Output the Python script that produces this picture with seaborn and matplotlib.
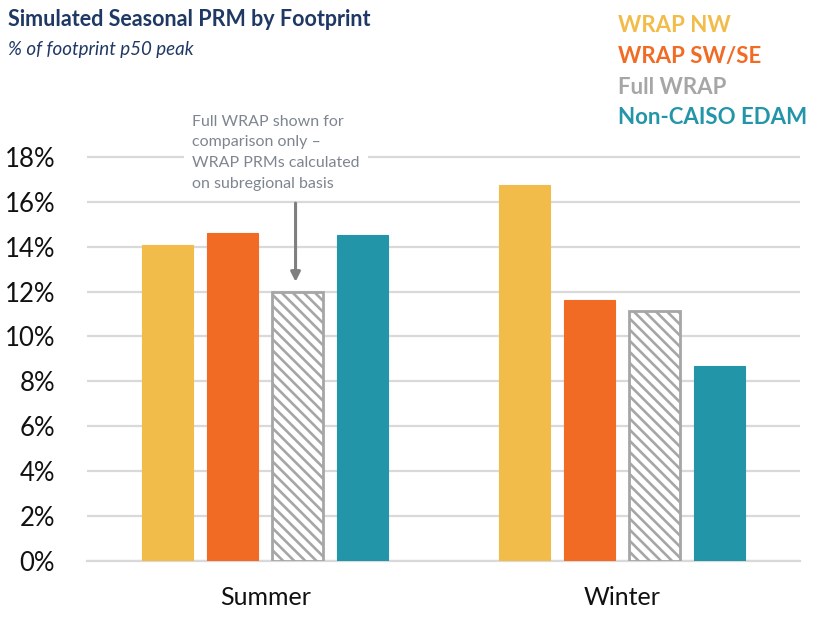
import matplotlib
matplotlib.use("Agg")
import matplotlib.pyplot as plt
import pandas as pd
import seaborn as sns

seasons = ["Summer", "Winter"]
footprints = ["WRAP NW", "WRAP SW/SE", "Full WRAP", "Non-CAISO EDAM"]
prm_summer = [14.1, 14.6, 12.0, 14.55]
prm_winter = [16.75, 11.65, 11.15, 8.7]
colors = ["#F2BC4A", "#F26B24", "#A6A6A6", "#2296A8"]
yticks = [0, 2, 4, 6, 8, 10, 12, 14, 16, 18]

rows = []
for season, values in zip(seasons, [prm_summer, prm_winter]):
    for fp, v in zip(footprints, values):
        rows.append({"season": season, "footprint": fp, "prm": v})
df = pd.DataFrame(rows)

sns.set_style("white")
plt.rcParams["font.family"] = ["Lato", "DejaVu Sans"]
plt.rcParams["hatch.color"] = "#A6A6A6"
plt.rcParams["hatch.linewidth"] = 1.9

fig = plt.figure(figsize=(8.26, 6.2), dpi=100)
ax = fig.add_axes([87 / 826, 1 - 560.6 / 620, 713 / 826, (560.6 - 146.0) / 620])

sns.barplot(
    data=df, x="season", y="prm", hue="footprint",
    hue_order=footprints, order=seasons,
    palette=colors, width=0.73, gap=0.22,
    saturation=1, legend=False, ax=ax, zorder=3,
)

# hatched outline for the full WRAP bars
for bar in ax.containers[2]:
    bar.set_facecolor("white")
    bar.set_edgecolor("#A6A6A6")
    bar.set_hatch("\\\\\\")
    bar.set_linewidth(2)
for i in [0, 1, 3]:
    for bar in ax.containers[i]:
        bar.set_edgecolor(colors[i])
        bar.set_linewidth(0.8)

ax.set_xlim(-0.5, 1.5)
ax.set_ylim(0, 18.5)
ax.set_yticks(yticks)
ax.set_yticklabels([f"{t}%" for t in yticks])
ax.yaxis.grid(True, color="#D9D9D9", linewidth=1.6, zorder=0)
ax.set_axisbelow(True)
for s in ["top", "right", "left"]:
    ax.spines[s].set_visible(False)
ax.spines["bottom"].set_color("#D9D9D9")
ax.spines["bottom"].set_linewidth(1.6)
ax.tick_params(axis="y", length=0, labelsize=18.5, pad=23, colors="#111111")
ax.tick_params(axis="x", length=0, labelsize=18, pad=18, colors="#111111")
ax.set_xlabel("")
ax.set_ylabel("")

fig.text(8 / 826, 1 - 20 / 620, "Simulated Seasonal PRM by Footprint",
         fontsize=15.5, fontweight="bold", color="#1F3864", va="center")
fig.text(8 / 826, 1 - 49 / 620, "% of footprint p50 peak",
         fontsize=13.5, style="italic", color="#1F3864", va="center")

legend_y = [25, 56, 87, 118]
for fp, c, yy in zip(footprints, colors, legend_y):
    fig.text(618 / 826, 1 - yy / 620, fp, fontsize=16, fontweight="bold",
             color=c, va="center")

ax.text(-0.2055, 18.2, "Full WRAP shown for\ncomparison only \u2013\nWRAP PRMs calculated\non subregional basis",
        fontsize=11.5, color="#7F8590", ha="left", va="center", linespacing=1.6,
        bbox=dict(facecolor="white", edgecolor="none", pad=6), zorder=4)
ax.annotate("", xy=(0.085, 12.44), xytext=(0.085, 15.95),
            arrowprops=dict(arrowstyle="-|>", color="#7F7F7F", lw=2.2,
                            mutation_scale=14, shrinkA=0, shrinkB=0), zorder=4)

fig.savefig("out.png", dpi=100)
